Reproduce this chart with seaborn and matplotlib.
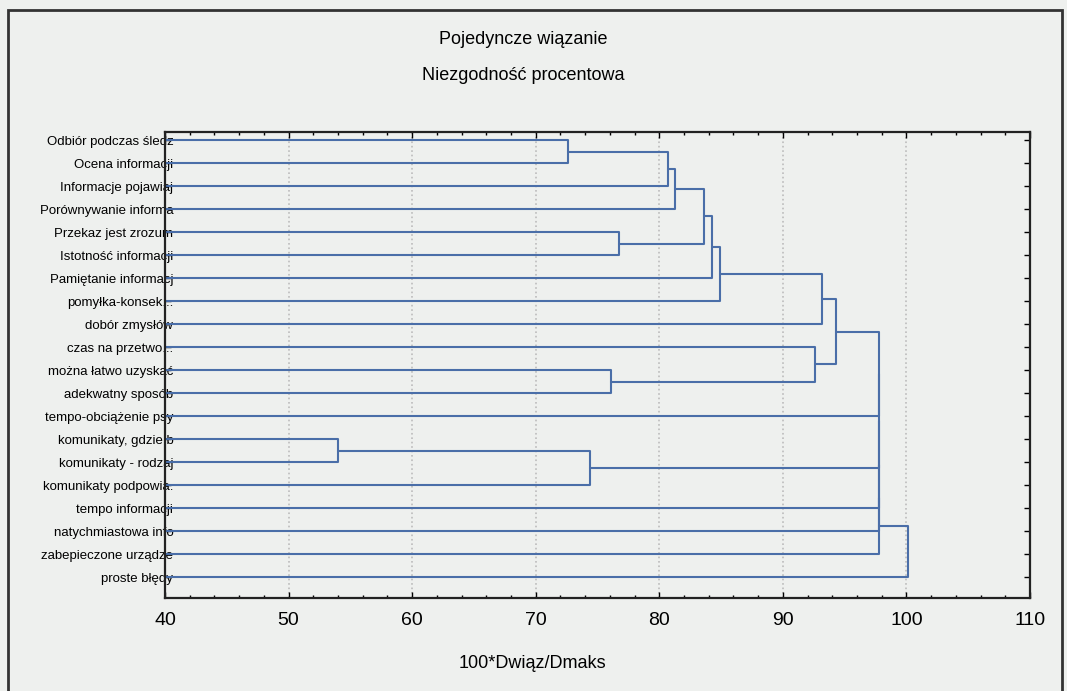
import pandas as pd
import matplotlib.pyplot as plt
import seaborn as sns
from matplotlib.patches import Rectangle
from matplotlib.ticker import MultipleLocator

# leaves, top to bottom
leaf_labels = [
    'Odbiór podczas śledz', 'Ocena informacji', 'Informacje pojawiaj',
    'Porównywanie informa', 'Przekaz jest zrozum', 'Istotność informacji',
    'Pamiętanie informacj', 'pomyłka-konsek...', 'dobór zmysłów',
    'czas na przetwo...', 'można łatwo uzyskać', 'adekwatny sposób',
    'tempo-obciążenie psy', 'komunikaty, gdzie b', 'komunikaty - rodzaj',
    'komunikaty podpowia.', 'tempo informacji', 'natychmiastowa info',
    'zabepieczone urządze', 'proste błędy',
]

# single linkage merges (ids >= 20 are earlier merges, scipy style)
merge_left = [0, 20, 21, 4, 22, 24, 25, 10, 9, 26, 29, 13, 31, 30, 33, 34, 35, 36, 37]
merge_right = [1, 2, 3, 5, 23, 6, 7, 11, 27, 8, 28, 14, 15, 12, 32, 16, 17, 18, 19]
merge_height = [72.6, 80.7, 81.3, 76.7, 83.6, 84.3, 84.9, 76.1, 92.6, 93.2,
                94.3, 54.0, 74.4, 97.8, 97.8, 97.8, 97.8, 97.8, 100.1]

x_min, x_max = 40, 110
n = len(leaf_labels)

# node positions: (height, row)
pos = {i: (x_min, float(i)) for i in range(n)}
rows = []
for k, (a, b, h) in enumerate(zip(merge_left, merge_right, merge_height)):
    ha, ya = pos[a]
    hb, yb = pos[b]
    for j, (x, y) in enumerate([(ha, ya), (h, ya), (h, yb), (hb, yb)]):
        rows.append({'link': k, 'order': j, 'x': x, 'y': y})
    pos[n + k] = (h, (ya + yb) / 2)
segs = pd.DataFrame(rows)

sns.set_style('ticks')
plt.rcParams['font.family'] = ['Liberation Sans', 'DejaVu Sans']
plt.rcParams['text.color'] = 'black'
plt.rcParams['xtick.color'] = 'black'
plt.rcParams['ytick.color'] = 'black'
bg = '#eef0ee'

fig = plt.figure(figsize=(10.67, 6.91), dpi=100, facecolor=bg)
ax = fig.add_axes([165 / 1067, 1 - 598 / 691, 865 / 1067, 466 / 691], facecolor=bg)

sns.lineplot(data=segs, x='x', y='y', units='link', estimator=None, sort=False,
             color='#4a6ea8', linewidth=1.5, ax=ax)

ax.set_xlim(x_min, x_max)
ax.set_ylim(19.9, -0.35)
ax.set_yticks(range(n))
ax.set_yticklabels(leaf_labels, fontsize=9.5)
ax.xaxis.set_major_locator(MultipleLocator(10))
ax.xaxis.set_minor_locator(MultipleLocator(2))
ax.tick_params(axis='x', which='major', direction='in', top=True, length=4,
               width=1, labelsize=14, pad=10)
ax.tick_params(axis='x', which='minor', direction='in', top=True, length=2.5, width=1)
ax.tick_params(axis='y', direction='in', right=True, length=4, width=1, pad=-6)
ax.grid(axis='x', which='major', linestyle=':', color='#bcbcbc', linewidth=1.2)
for s in ax.spines.values():
    s.set_color('#222222')
    s.set_linewidth(1.6)
ax.set_xlabel('')
ax.set_ylabel('')

fig.text(0.49, 1 - 40 / 691, 'Pojedyncze wiązanie', ha='center', va='center',
         fontsize=13)
fig.text(0.49, 1 - 75 / 691, 'Niezgodność procentowa', ha='center', va='center',
         fontsize=13)
fig.text(532 / 1067, 1 - 663 / 691, '100*Dwiąz/Dmaks', ha='center', va='center',
         fontsize=13)

fig.add_artist(Rectangle((8 / 1067, -0.05), 1054 / 1067, 1.05 - 10 / 691,
                         transform=fig.transFigure, fill=False,
                         edgecolor='#333333', linewidth=2))

plt.savefig('out.png', dpi=100, facecolor=bg)
